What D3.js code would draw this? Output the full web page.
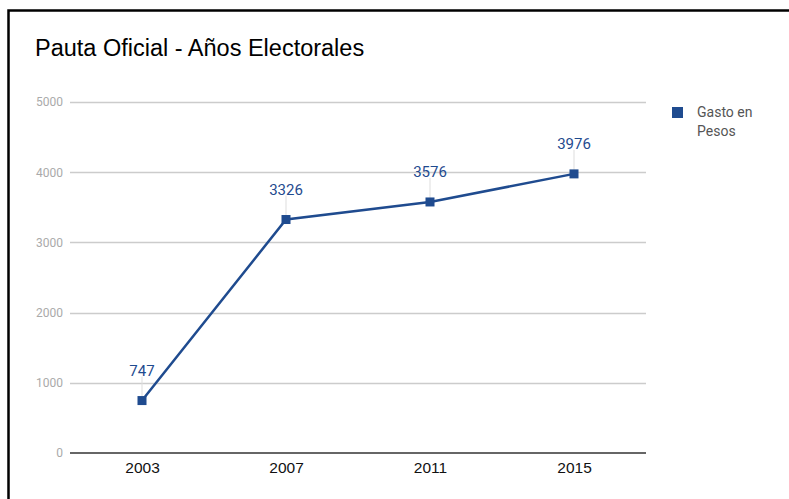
<!DOCTYPE html>
<html>
<head>
<meta charset="utf-8">
<script src="https://cdnjs.cloudflare.com/ajax/libs/d3/7.8.5/d3.min.js"></script>
<style>
  body { margin: 0; background: #fff; }
  svg { display: block; }
</style>
</head>
<body>
<script>
// data
var years = ["2003", "2007", "2011", "2015"];
var gasto = [747, 3326, 3576, 3976];
var yTicks = [0, 1000, 2000, 3000, 4000, 5000];
var seriesName = ["Gasto en", "Pesos"];

var width = 789, height = 499;
var margin = { top: 102, right: 143, bottom: 46, left: 70 };

var svg = d3.select("body")
  .append("svg")
  .attr("width", width)
  .attr("height", height);

// frame (top + left edge only)
svg.append("path")
  .attr("d", "M8.5,499 L8.5,10.5 L789,10.5")
  .attr("fill", "none")
  .attr("stroke", "#000")
  .attr("stroke-width", 2.5);

svg.append("text")
  .attr("x", 35)
  .attr("y", 56)
  .style("font-family", "Liberation Sans, Arial, sans-serif")
  .style("font-size", "23.5px")
  .style("fill", "#000")
  .text("Pauta Oficial - Años Electorales");

var x = d3.scalePoint()
  .domain(years)
  .range([margin.left, width - margin.right])
  .padding(0.5);

var y = d3.scaleLinear()
  .domain([0, 5000])
  .range([height - margin.bottom, margin.top]);

// grid lines
svg.append("g")
  .selectAll("line")
  .data(yTicks.filter(function (d) { return d > 0; }))
  .enter().append("line")
  .attr("x1", margin.left)
  .attr("x2", width - margin.right)
  .attr("y1", function (d) { return Math.round(y(d)) + 0.5; })
  .attr("y2", function (d) { return Math.round(y(d)) + 0.5; })
  .attr("stroke", "#ccc")
  .attr("stroke-width", 1.5);

// baseline
svg.append("line")
  .attr("x1", margin.left)
  .attr("x2", width - margin.right)
  .attr("y1", y(0))
  .attr("y2", y(0))
  .attr("stroke", "#333")
  .attr("stroke-width", 1.5);

// y axis labels
var yAxis = d3.axisLeft(y).tickValues(yTicks).tickFormat(d3.format("d")).tickSize(0).tickPadding(7);
var gy = svg.append("g")
  .attr("transform", "translate(" + margin.left + ",0)")
  .call(yAxis);
gy.select(".domain").remove();
gy.selectAll("text")
  .style("font-family", "Roboto, Arial, sans-serif")
  .style("font-size", "12px")
  .style("fill", "#aaa");

// x axis labels
var xAxis = d3.axisBottom(x).tickSize(0).tickPadding(9);
var gx = svg.append("g")
  .attr("transform", "translate(0," + y(0) + ")")
  .call(xAxis);
gx.select(".domain").remove();
gx.selectAll("text")
  .style("font-family", "Liberation Sans, Arial, sans-serif")
  .style("font-size", "15.5px")
  .style("fill", "#111");

var blue = "#1f4b8f";

// leader lines
svg.append("g")
  .selectAll("line")
  .data(gasto)
  .enter().append("line")
  .attr("x1", function (d, i) { return x(years[i]); })
  .attr("x2", function (d, i) { return x(years[i]); })
  .attr("y1", function (d) { return y(d) - 24; })
  .attr("y2", function (d) { return y(d); })
  .attr("stroke", "#ddd")
  .attr("stroke-width", 1);

var line = d3.line()
  .x(function (d, i) { return x(years[i]); })
  .y(function (d) { return y(d); });

svg.append("path")
  .datum(gasto)
  .attr("d", line)
  .attr("fill", "none")
  .attr("stroke", blue)
  .attr("stroke-width", 2.5);

svg.append("g")
  .selectAll("rect")
  .data(gasto)
  .enter().append("rect")
  .attr("x", function (d, i) { return x(years[i]) - 4.5; })
  .attr("y", function (d) { return y(d) - 4.5; })
  .attr("width", 9)
  .attr("height", 9)
  .attr("fill", blue);

// value labels
svg.append("g")
  .selectAll("text")
  .data(gasto)
  .enter().append("text")
  .attr("x", function (d, i) { return x(years[i]); })
  .attr("y", function (d) { return y(d) - 25; })
  .attr("text-anchor", "middle")
  .style("font-family", "Roboto, Arial, sans-serif")
  .style("font-size", "15px")
  .style("fill", blue)
  .text(function (d) { return d; });

// legend
var legend = svg.append("g").attr("transform", "translate(672,107)");
legend.append("rect")
  .attr("width", 11)
  .attr("height", 11)
  .attr("fill", blue);
legend.selectAll("text")
  .data(seriesName)
  .enter().append("text")
  .attr("x", 25)
  .attr("y", function (d, i) { return 10 + i * 19; })
  .style("font-family", "Roboto, Arial, sans-serif")
  .style("font-size", "14px")
  .style("fill", "#555")
  .text(function (d) { return d; });
</script>
</body>
</html>
